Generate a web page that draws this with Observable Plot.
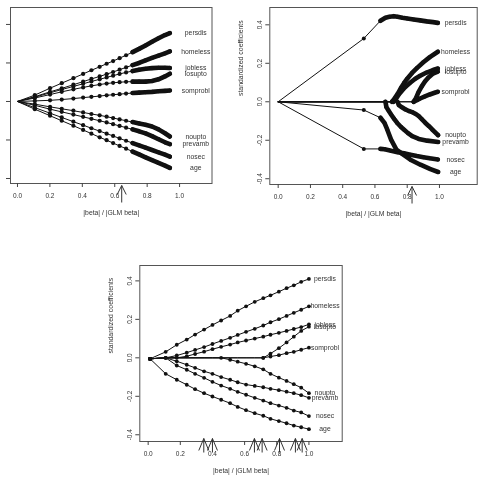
<!DOCTYPE html>
<html><head><meta charset="utf-8">
<script src="https://cdn.jsdelivr.net/npm/d3@7"></script>
<script src="https://cdn.jsdelivr.net/npm/@observablehq/plot@0.6"></script>
<style>
html,body{margin:0;padding:0;background:#fff;}
#wrap{position:relative;width:480px;height:495px;overflow:hidden;background:#fff;}
#wrap svg{position:absolute;left:0;top:0;will-change:transform;}
</style></head><body><div id="wrap"></div>
<script>
// ---------- shared ----------
const varNames = ["persdis","homeless","jobless","losupto","somprobl","noupto","prevamb","nosec","age"];
const xTicks = [0, 0.2, 0.4, 0.6, 0.8, 1.0];
const yTicks = [-0.4, -0.2, 0, 0.2, 0.4];
const xTitle = "|beta| / |GLM beta|";
const yTitle = "standardized coefficients";

// ---------- panel 1 (top left) : common x grid ----------
const p1X        = [0, 0.107, 0.201, 0.273, 0.345, 0.405, 0.456, 0.507, 0.55, 0.59, 0.63, 0.67, 0.71, 0.75, 0.79, 0.83, 0.87, 0.91, 0.94];
const p1Persdis  = [0, 0.033, 0.069, 0.095, 0.121, 0.143, 0.162, 0.180, 0.196, 0.210, 0.225, 0.240, 0.256, 0.273, 0.291, 0.310, 0.328, 0.345, 0.355];
const p1Homeless = [0, 0.025, 0.050, 0.068, 0.087, 0.103, 0.117, 0.130, 0.142, 0.153, 0.165, 0.177, 0.189, 0.200, 0.213, 0.226, 0.238, 0.250, 0.260];
const p1Jobless  = [0, 0.022, 0.045, 0.062, 0.078, 0.092, 0.104, 0.115, 0.125, 0.134, 0.143, 0.151, 0.158, 0.165, 0.170, 0.173, 0.175, 0.175, 0.174];
const p1Losupto  = [0, 0.018, 0.036, 0.050, 0.063, 0.073, 0.081, 0.088, 0.093, 0.097, 0.100, 0.102, 0.103, 0.103, 0.103, 0.106, 0.115, 0.130, 0.144];
const p1Somprobl = [0, 0.003, 0.006, 0.010, 0.015, 0.020, 0.024, 0.028, 0.032, 0.035, 0.038, 0.041, 0.044, 0.046, 0.048, 0.050, 0.053, 0.055, 0.057];
const p1Noupto   = [0, -0.014, -0.028, -0.038, -0.048, -0.057, -0.065, -0.072, -0.079, -0.086, -0.093, -0.100, -0.107, -0.114, -0.121, -0.130, -0.145, -0.165, -0.182];
const p1Prevamb  = [0, -0.020, -0.040, -0.054, -0.068, -0.080, -0.090, -0.100, -0.109, -0.118, -0.127, -0.136, -0.145, -0.155, -0.166, -0.180, -0.196, -0.212, -0.222];
const p1Nosec    = [0, -0.032, -0.061, -0.083, -0.105, -0.123, -0.139, -0.154, -0.167, -0.179, -0.192, -0.204, -0.216, -0.228, -0.240, -0.252, -0.264, -0.276, -0.286];
const p1Age      = [0, -0.040, -0.074, -0.100, -0.126, -0.148, -0.167, -0.186, -0.201, -0.216, -0.231, -0.245, -0.260, -0.275, -0.290, -0.305, -0.319, -0.333, -0.345];
const p1Arrows   = [0.643];

// ---------- panel 2 (top right) : [x, coefficient] pairs ----------
const p2Persdis  = [[0,0],[0.531,0.329],[0.634,0.421],[0.665,0.437],[0.69,0.442],[0.717,0.445],[0.74,0.442],[0.77,0.437],[0.8,0.433],[0.84,0.428],[0.88,0.423],[0.92,0.418],[0.96,0.414],[0.99,0.41]];
const p2Homeless = [[0,0],[0.705,0],[0.72,0.015],[0.74,0.04],[0.76,0.07],[0.78,0.097],[0.8,0.12],[0.83,0.15],[0.86,0.175],[0.9,0.205],[0.94,0.232],[0.99,0.26]];
const p2Jobless  = [[0,0],[0.715,0],[0.73,0.015],[0.75,0.04],[0.77,0.06],[0.79,0.078],[0.82,0.1],[0.85,0.12],[0.88,0.135],[0.92,0.152],[0.96,0.165],[0.99,0.173]];
const p2Losupto  = [[0,0],[0.84,0],[0.855,0.02],[0.87,0.05],[0.89,0.08],[0.91,0.105],[0.93,0.125],[0.96,0.147],[0.99,0.157]];
const p2Somprobl = [[0,0],[0.84,0],[0.86,0.008],[0.88,0.017],[0.91,0.028],[0.94,0.038],[0.97,0.047],[0.99,0.052]];
const p2Noupto   = [[0,0],[0.74,0],[0.748,-0.017],[0.77,-0.03],[0.789,-0.04],[0.81,-0.048],[0.831,-0.054],[0.85,-0.062],[0.872,-0.075],[0.89,-0.09],[0.913,-0.11],[0.935,-0.127],[0.955,-0.144],[0.975,-0.16],[0.992,-0.174]];
const p2Prevamb  = [[0,0],[0.665,0],[0.671,-0.028],[0.685,-0.047],[0.7,-0.066],[0.72,-0.09],[0.738,-0.11],[0.76,-0.13],[0.779,-0.144],[0.805,-0.163],[0.831,-0.179],[0.872,-0.193],[0.924,-0.202],[0.992,-0.209]];
const p2Nosec    = [[0,0],[0.531,-0.245],[0.634,-0.245],[0.66,-0.247],[0.7,-0.255],[0.74,-0.262],[0.78,-0.268],[0.82,-0.275],[0.86,-0.282],[0.9,-0.288],[0.94,-0.294],[0.99,-0.30]];
const p2Age      = [[0,0],[0.531,-0.043],[0.634,-0.083],[0.659,-0.11],[0.676,-0.144],[0.7,-0.197],[0.733,-0.249],[0.769,-0.271],[0.82,-0.301],[0.882,-0.327],[0.944,-0.35],[0.992,-0.365]];
const p2Arrows   = [0.83];

// ---------- panel 3 (bottom) : common x grid ----------
const p3X        = [0.012, 0.109, 0.178, 0.240, 0.292, 0.348, 0.400, 0.454, 0.510, 0.557, 0.609, 0.663, 0.716, 0.761, 0.813, 0.861, 0.906, 0.952, 1.0];
const p3Persdis  = [-0.005, 0.031, 0.068, 0.095, 0.121, 0.147, 0.171, 0.194, 0.218, 0.245, 0.268, 0.291, 0.310, 0.325, 0.344, 0.362, 0.377, 0.395, 0.410];
const p3Homeless = [-0.005, 0, 0.012, 0.027, 0.041, 0.056, 0.072, 0.088, 0.104, 0.119, 0.135, 0.151, 0.168, 0.185, 0.201, 0.218, 0.234, 0.250, 0.268];
const p3Jobless  = [-0.005, 0, 0, 0.008, 0.020, 0.032, 0.045, 0.057, 0.069, 0.080, 0.090, 0.100, 0.110, 0.120, 0.130, 0.140, 0.150, 0.160, 0.174];
const p3Losupto  = [-0.005, 0, 0, 0, 0, 0, 0, 0, 0, 0, 0, 0, 0, 0.022, 0.050, 0.080, 0.110, 0.140, 0.162];
const p3Somprobl = [-0.005, 0, 0, 0, 0, 0, 0, 0, 0, 0, 0, 0, 0, 0.007, 0.014, 0.024, 0.031, 0.042, 0.053];
const p3Noupto   = [-0.005, 0, 0, 0, 0, 0, 0, 0, -0.010, -0.020, -0.031, -0.044, -0.060, -0.083, -0.103, -0.120, -0.137, -0.155, -0.184];
const p3Prevamb  = [-0.005, 0, -0.018, -0.036, -0.052, -0.070, -0.083, -0.100, -0.114, -0.127, -0.139, -0.146, -0.153, -0.161, -0.168, -0.176, -0.184, -0.194, -0.208];
const p3Nosec    = [-0.005, 0, -0.040, -0.062, -0.083, -0.104, -0.125, -0.144, -0.161, -0.177, -0.192, -0.208, -0.222, -0.236, -0.248, -0.260, -0.274, -0.284, -0.303];
const p3Age      = [-0.005, -0.083, -0.114, -0.140, -0.163, -0.184, -0.201, -0.218, -0.236, -0.255, -0.272, -0.288, -0.301, -0.317, -0.329, -0.340, -0.352, -0.361, -0.371];
const p3Arrows   = [0.346, 0.400, 0.661, 0.709, 0.817, 0.916, 0.958];

// ---------- build series ----------
const gridSeries = (xs, vals) => varNames.map((n, i) => ({name: n, pts: xs.map((x, j) => [x, vals[i][j]])}));
const s1 = gridSeries(p1X, [p1Persdis,p1Homeless,p1Jobless,p1Losupto,p1Somprobl,p1Noupto,p1Prevamb,p1Nosec,p1Age]);
const s2 = [p2Persdis,p2Homeless,p2Jobless,p2Losupto,p2Somprobl,p2Noupto,p2Prevamb,p2Nosec,p2Age].map((p, i) => ({name: varNames[i], pts: p}));
const s3 = gridSeries(p3X, [p3Persdis,p3Homeless,p3Jobless,p3Losupto,p3Somprobl,p3Noupto,p3Prevamb,p3Nosec,p3Age]);

const W = 480, H = 495;
const FONT = "'Liberation Sans', Arial, Helvetica, sans-serif";
const fmt = d => d.toFixed(1);

function panel(cfg) {
  const {series, frame, xDomain, yDomain, dense, arrows, yLabels, showYTitle, labelX, dotR, arrowTip, arrowBase, wingLen, wingHalf} = cfg;
  const rows = [], denseRows = [], dotRows = [], labelRows = [];
  for (const s of series) {
    const p = s.pts;
    p.forEach(([x, v], i) => {
      rows.push({name: s.name, x, v});
      const next = i + 1 < p.length ? p[i + 1][1] : 0;
      const active = v !== 0 || next !== 0;
      if (x > 0 && active) dotRows.push({name: s.name, x, v});
      if (x >= dense && active) denseRows.push({name: s.name, x, v});
    });
    labelRows.push({name: s.name, v: p[p.length - 1][1]});
  }
  // pixel -> data conversions for the break-arrow glyphs under the x axis
  const pxPerY = (frame.b - frame.t) / (yDomain[1] - yDomain[0]);
  const pxPerX = (frame.r - frame.l) / (xDomain[1] - xDomain[0]);
  const yTipV = yDomain[0] - arrowTip / pxPerY;
  const yBaseV = yDomain[0] - arrowBase / pxPerY;
  const yWingV = yTipV - wingLen / pxPerY;
  const wx = wingHalf / pxPerX;
  const arrowStyle = {stroke: "#333", strokeWidth: 1};
  const marks = [
    Plot.line(rows, {x: "x", y: "v", z: "name", stroke: "#111", strokeWidth: 1}),
    Plot.line(denseRows, {x: "x", y: "v", z: "name", stroke: "#111", strokeWidth: 4.6, strokeLinecap: "round", strokeLinejoin: "round"}),
    Plot.dot(dotRows, {x: "x", y: "v", r: dotR, fill: "#111", stroke: null}),
    Plot.text(labelRows, {x: () => labelX, y: "v", text: "name", fontSize: 6.8, fill: "#333"}),
    Plot.frame({stroke: "#555", strokeWidth: 1}),
    Plot.axisX({ticks: xTicks, tickSize: 4, tickPadding: 6, tickFormat: fmt, label: null, stroke: "#444", fill: "#333", fontSize: 6.5}),
    Plot.axisY({ticks: yTicks, tickSize: 4, tickPadding: 4, tickRotate: -90, tickFormat: yLabels ? fmt : () => "", label: null, stroke: "#444", fill: "#333", fontSize: 6.5}),
    Plot.text([xTitle], {frameAnchor: "bottom", dy: 31, text: d => d, fontSize: 6.8, fill: "#333"}),
    // break arrows: shaft + two wings
    Plot.link(arrows, {x1: d => d, x2: d => d, y1: () => yBaseV, y2: () => yTipV, ...arrowStyle}),
    Plot.link(arrows, {x1: d => d - wx, x2: d => d, y1: () => yWingV, y2: () => yTipV, ...arrowStyle}),
    Plot.link(arrows, {x1: d => d + wx, x2: d => d, y1: () => yWingV, y2: () => yTipV, ...arrowStyle})
  ];
  if (showYTitle) marks.push(Plot.text([yTitle], {frameAnchor: "left", dx: -29, rotate: -90, text: d => d, fontSize: 6.9, fill: "#333"}));
  const svg = Plot.plot({
    width: W, height: H,
    marginLeft: frame.l, marginRight: W - frame.r, marginTop: frame.t, marginBottom: H - frame.b,
    x: {domain: xDomain}, y: {domain: yDomain},
    style: {fontFamily: FONT, fontSize: "6.5px", background: "transparent", overflow: "visible"},
    marks
  });
  svg.style.background = "transparent";
  document.getElementById("wrap").appendChild(svg);
}

panel({series: s1, frame: {l: 10, r: 211.5, t: 7, b: 183}, xDomain: [-0.043, 1.2], yDomain: [-0.426, 0.488],
  dense: 0.71, arrows: p1Arrows, yLabels: false, showYTitle: false, labelX: 1.1, dotR: 2.1,
  arrowTip: 2, arrowBase: 19, wingLen: 9, wingHalf: 4.5});
panel({series: s2, frame: {l: 269.3, r: 476.7, t: 7, b: 184}, xDomain: [-0.052, 1.234], yDomain: [-0.43, 0.49],
  dense: 0.634, arrows: p2Arrows, yLabels: true, showYTitle: true, labelX: 1.1, dotR: 2.0,
  arrowTip: 2, arrowBase: 19, wingLen: 9, wingHalf: 4.5});
panel({series: s3, frame: {l: 139.3, r: 341.7, t: 265, b: 441}, xDomain: [-0.052, 1.207], yDomain: [-0.435, 0.48],
  dense: Infinity, arrows: p3Arrows, yLabels: true, showYTitle: true, labelX: 1.1, dotR: 1.9,
  arrowTip: -3, arrowBase: 11, wingLen: 12, wingHalf: 5});
</script></body></html>
